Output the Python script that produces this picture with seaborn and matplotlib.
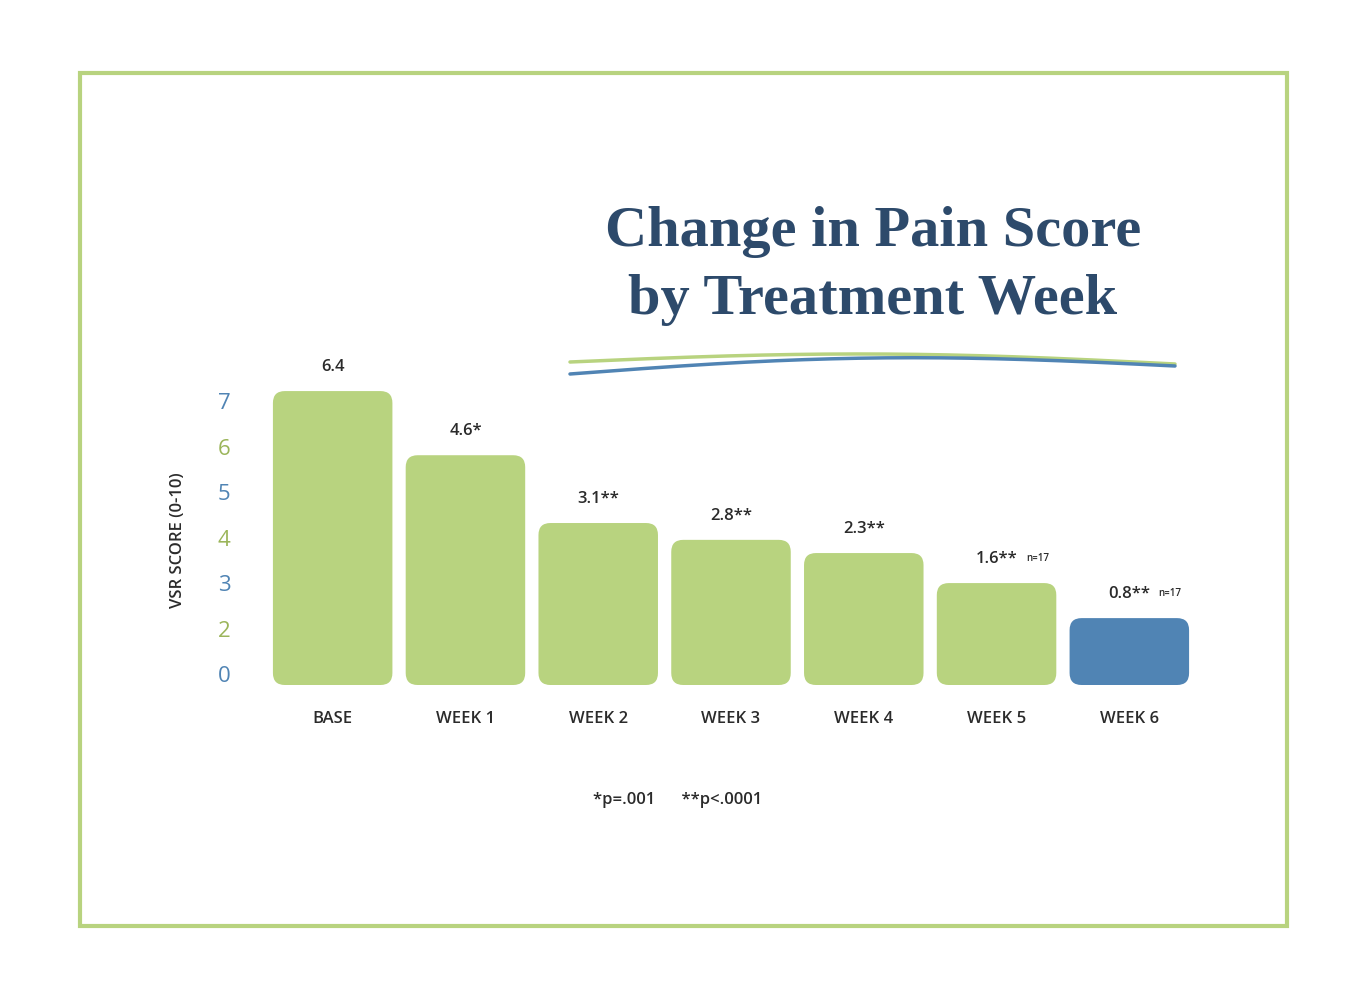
import numpy as np
import seaborn as sns
import matplotlib.pyplot as plt
from matplotlib.patches import FancyBboxPatch, Rectangle
from matplotlib.lines import Line2D

weeks = ["BASE", "WEEK 1", "WEEK 2", "WEEK 3", "WEEK 4", "WEEK 5", "WEEK 6"]
score_labels = ["6.4", "4.6*", "3.1**", "2.8**", "2.3**", "1.6**", "0.8**"]
# drawn heights, in axis units
bar_heights = [6.46, 5.05, 3.56, 3.19, 2.90, 2.24, 1.47]
n_notes = ["", "", "", "", "", "n=17", "n=17"]
tick_pos = [6.18, 5.18, 4.18, 3.18, 2.18, 1.18, 0.18]
tick_text = ["7", "6", "5", "4", "3", "2", "0"]

GREEN = "#b8d37f"
BLUE = "#5084b4"
NAVY = "#2d4a6b"
TXT = "#2b2b2b"

sns.set_style("white")
plt.rcParams["font.family"] = ["Open Sans", "DejaVu Sans"]

fig = plt.figure(figsize=(13.66, 10), dpi=100)
ax = fig.add_axes([253 / 1366, 0.315, (1209 - 253) / 1366, 0.30])

colors = [GREEN] * 6 + [BLUE]
sns.barplot(x=weeks, y=bar_heights, hue=weeks, palette=colors, legend=False,
            width=0.9, ax=ax)
# swap the plain bars for rounded ones
for p, c in zip(list(ax.patches), colors):
    x, w, h = p.get_x(), p.get_width(), p.get_height()
    p.remove()
    ax.add_patch(FancyBboxPatch((x, 0), w, h,
                                boxstyle="round,pad=0,rounding_size=0.09",
                                mutation_aspect=132.7 / 45.5, fc=c, ec="none"))

ax.set_xlim(-0.6, 6.6)
ax.set_ylim(0, 300 / 45.5)
for s in ax.spines.values():
    s.set_visible(False)
ax.set_xticks([])
ax.set_yticks([])

for i, (h, lab, n) in enumerate(zip(bar_heights, score_labels, n_notes)):
    ax.text(i, h + 0.35, lab, ha="center", va="bottom", fontsize=12,
            fontweight="semibold", color=TXT)
    if n:
        ax.text(i + 0.22, h + 0.42, n, ha="left", va="bottom", fontsize=7,
                fontweight="semibold", color=TXT)
    ax.text(i, -0.75, weeks[i], ha="center", va="center", fontsize=12,
            fontweight="semibold", color=TXT)

for k, (yp, t) in enumerate(zip(tick_pos, tick_text)):
    fig.text(224 / 1366, 1 - (685 - yp * 45.5) / 1000, t, ha="center", va="center",
             fontsize=16, color=BLUE if k % 2 == 0 else "#9bb55a")

fig.text(178 / 1366, 1 - 540 / 1000, "VSR SCORE (0-10)", rotation=90, ha="center",
         va="center", fontsize=12, fontweight="semibold", color=TXT)

fig.text(873 / 1366, 1 - 232 / 1000, "Change in Pain Score", ha="center", va="center",
         fontsize=42, fontweight="bold", color=NAVY, family="Liberation Serif")
fig.text(873 / 1366, 1 - 300 / 1000, "by Treatment Week", ha="center", va="center",
         fontsize=42, fontweight="bold", color=NAVY, family="Liberation Serif")

# decorative swoosh under the title
xs = np.linspace(570, 1175, 200)
t = (xs - 570) / 605
yg = 362 - 9 * np.sin(np.pi * t) + 2 * t
yb = 374 - 10 * np.sin(np.pi * t) * (1 - t) - 8 * t + 4 * np.sin(2 * np.pi * t) * 0
fig.add_artist(Line2D(xs / 1366, 1 - yg / 1000, color=GREEN, lw=2.5))
fig.add_artist(Line2D(xs / 1366, 1 - (374 - 12 * np.sin(np.pi * t) + 2 * t - 10 * t) / 1000,
                      color=BLUE, lw=2.5))

fig.text(678 / 1366, 1 - 800 / 1000, "*p=.001      **p<.0001", ha="center", va="center",
         fontsize=12, fontweight="semibold", color=TXT)

fig.add_artist(Rectangle((80 / 1366, 1 - 926 / 1000), 1207 / 1366, 853 / 1000,
                         fill=False, ec=GREEN, lw=3, transform=fig.transFigure))

fig.savefig("out.png", dpi=100, facecolor="white")
